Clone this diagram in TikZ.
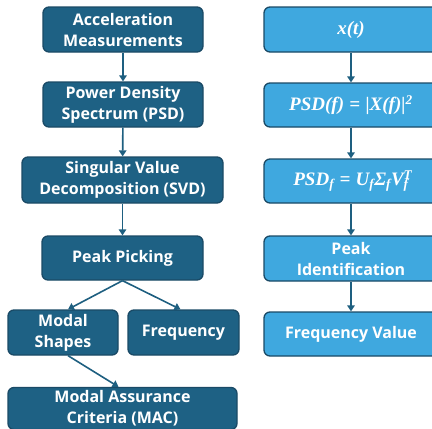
\documentclass[tikz,border=0pt]{standalone}
\usepackage{fontspec}
\setmainfont{Open Sans}
\newfontfamily\formfont{Liberation Serif}
\usetikzlibrary{arrows.meta}
\definecolor{darkbox}{HTML}{1E6184}
\definecolor{lightbox}{HTML}{3FA8DF}
\definecolor{edgec}{HTML}{1A4A66}
\definecolor{arrowc}{HTML}{1E5F80}
\newcommand{\fm}[1]{{\fontsize{19}{21}\selectfont\formfont\bfseries\itshape #1}}
\newcommand{\subsup}[2]{\rlap{\textsuperscript{#2}}\textsubscript{#1}}
\newcommand{\eqsign}{\hspace{0.28em}=\hspace{0.28em}}
\tikzset{
  basebox/.style={draw=edgec, line width=1.3pt, rounded corners=6pt, text=white,
    font=\fontsize{16}{21}\selectfont\bfseries, align=center, inner sep=0pt},
  darkstep/.style={basebox, fill=darkbox},
  lightstep/.style={basebox, fill=lightbox},
  flow/.style={draw=arrowc, line width=1.6pt, -{Triangle[length=6pt,width=7.5pt]}}
}
\begin{document}
\begin{tikzpicture}[x=1pt,y=1pt]
\useasboundingbox (0,0) rectangle (432,-429);
\clip (0,0) rectangle (432,-429);
% left column
\node[darkstep, minimum width=160, minimum height=45] (b1) at (123,-29.5) {Acceleration\\Measurements};
\node[darkstep, minimum width=160, minimum height=45] (b2) at (123,-104.5) {Power Density\\Spectrum (PSD)};
\node[darkstep, minimum width=201, minimum height=46] (b3) at (122.5,-180) {Singular Value\\Decomposition (SVD)};
\node[darkstep, minimum width=161, minimum height=44] (b4) at (122.5,-258) {Peak Picking};
\node[darkstep, minimum width=110, minimum height=45] (b5) at (63,-332.5) {Modal\\Shapes};
\node[darkstep, minimum width=111, minimum height=45] (b6) at (183.5,-332.5) {Frequency};
\node[darkstep, minimum width=229, minimum height=42] (b7) at (122.5,-408.5) {Modal Assurance\\Criteria (MAC)};
% right column
\node[lightstep, minimum width=174, minimum height=45] (r1) at (351,-29.5) {\fm{x(t)}};
\node[lightstep, minimum width=174, minimum height=44] (r2) at (351,-105) {\fm{PSD(f)\eqsign|X(f)|\textsuperscript{2}}};
\node[lightstep, minimum width=174, minimum height=44] (r3) at (351,-181) {\fm{PSD\textsubscript{f}\eqsign U\textsubscript{f}Σ\textsubscript{f}V\subsup{f}{T}}};
\node[lightstep, minimum width=174, minimum height=45] (r4) at (351,-258.5) {Peak\\Identification};
\node[lightstep, minimum width=174, minimum height=44] (r5) at (351,-334) {Frequency Value};
% arrows left
\draw[flow] (b1) -- (b2);
\draw[flow] (b2) -- (b3);
\draw[flow] (b3.south) -- (b3.south |- b4.north);
\draw[flow] (b4.south) -- ([xshift=5]b5.north);
\draw[flow] (b4.south) -- ([xshift=-3]b6.north);
\draw[flow] ([xshift=5]b5.south) -- ([xshift=-4]b7.north);
% arrows right
\draw[flow] (r1) -- (r2);
\draw[flow] (r2) -- (r3);
\draw[flow] (r3) -- (r4);
\draw[flow] (r4) -- (r5);
\end{tikzpicture}
\end{document}
